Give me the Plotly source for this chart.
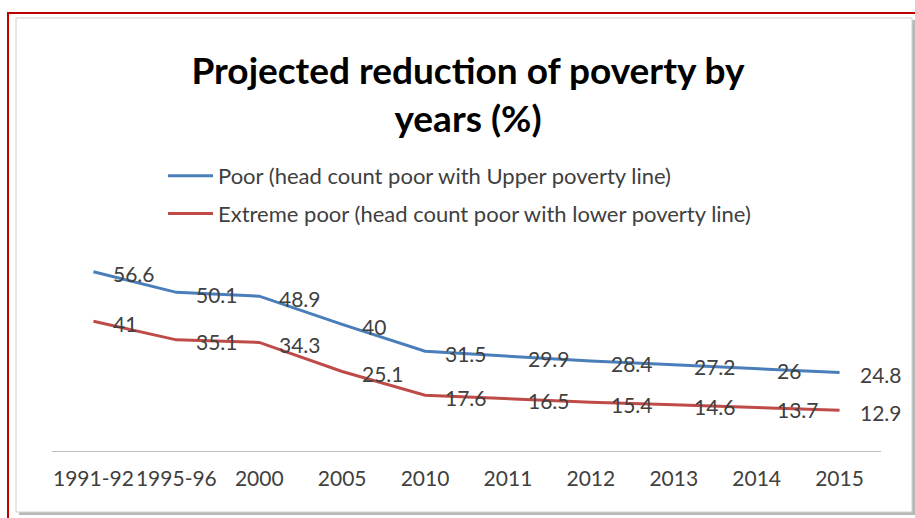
import plotly.graph_objects as go

categories = ["1991-92", "1995-96", "2000", "2005", "2010", "2011", "2012", "2013", "2014", "2015"]
poor = [56.6, 50.1, 48.9, 40, 31.5, 29.9, 28.4, 27.2, 26, 24.8]
extreme_poor = [41, 35.1, 34.3, 25.1, 17.6, 16.5, 15.4, 14.6, 13.7, 12.9]
series_names = ["Poor (head count poor with Upper poverty line)",
                "Extreme poor (head count poor with lower poverty line)"]
title_text = "Projected reduction of poverty by<br>years (%)"

W, H = 915, 518
L, R, T, B = 52, 881, 261, 451
FONT = "Lato, 'Open Sans', sans-serif"


def px(x):
    return (x - L) / (R - L)


def py(y):
    return (B - y) / (B - T)


fig = go.Figure()
fig.add_trace(go.Scatter(x=categories, y=poor, mode="lines", name=series_names[0],
                         line=dict(color="#4A7EBB", width=3), legendgroup="a"))
fig.add_trace(go.Scatter(x=categories, y=extreme_poor, mode="lines", name=series_names[1],
                         line=dict(color="#BE4B48", width=3), legendgroup="b"))

annotations = []
for series in (poor, extreme_poor):
    for i, v in enumerate(series):
        annotations.append(dict(x=i, y=v, xref="x", yref="y", text=f"{v:g}", showarrow=False,
                                xanchor="left", yanchor="middle", xshift=18, yshift=-2,
                                font=dict(family=FONT, size=21, color="#404040")))

shapes = [
    # shadow
    dict(type="rect", xref="paper", yref="paper", x0=px(19), x1=px(915), y0=py(20), y1=py(515),
         fillcolor="#B8B8B8", line=dict(width=0), layer="below"),
    # inner box
    dict(type="rect", xref="paper", yref="paper", x0=px(16), x1=px(912), y0=py(18), y1=py(512),
         fillcolor="white", line=dict(color="#D0D0D0", width=1), layer="below"),
    # red frame
    dict(type="line", xref="paper", yref="paper", x0=px(7), x1=px(916), y0=py(13), y1=py(13),
         line=dict(color="#C00000", width=2), layer="below"),
    dict(type="line", xref="paper", yref="paper", x0=px(8), x1=px(8), y0=py(13), y1=py(519),
         line=dict(color="#C00000", width=2), layer="below"),
]

fig.update_layout(
    width=W, height=H,
    margin=dict(l=L, r=W - R, t=T, b=H - B, pad=0),
    paper_bgcolor="white", plot_bgcolor="rgba(0,0,0,0)",
    title=dict(text=title_text, x=468 / W, xanchor="center", y=1 - 84 / H, yanchor="top",
               yref="container", font=dict(family=FONT, size=37, color="black", weight="bold")),
    font=dict(family=FONT, color="#404040"),
    showlegend=True,
    legend=dict(x=px(163), y=py(155), xanchor="left", yanchor="top", orientation="v",
                bgcolor="rgba(0,0,0,0)", borderwidth=0, tracegroupgap=6, itemwidth=45,
                font=dict(family=FONT, size=22, color="#404040")),
    xaxis=dict(type="category", range=[-0.5, len(categories) - 0.5], showgrid=False,
               zeroline=False, showline=True, linecolor="#BFBFBF",
               linewidth=1, ticks="", tickangle=0, ticklabelstandoff=9,
               tickfont=dict(family=FONT, size=21, color="#404040"), fixedrange=True),
    yaxis=dict(range=[0, 60], visible=False, fixedrange=True),
    annotations=annotations,
    shapes=shapes,
)

fig.write_html("out.html")
